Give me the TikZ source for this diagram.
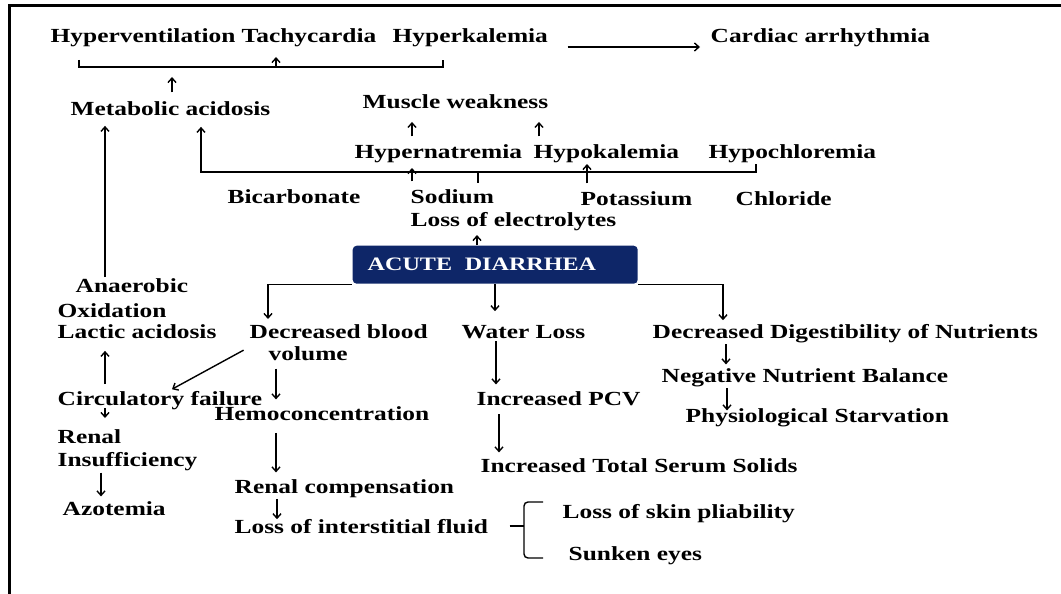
\documentclass[tikz,border=0pt]{standalone}
\usepackage{fontspec}
\setmainfont{Liberation Serif}[FakeStretch=1.27]
\usetikzlibrary{arrows.meta}
\definecolor{navyblue}{RGB}{14,38,104}
\tikzset{
 lbl/.style={font=\bfseries\fontsize{20}{22}\selectfont, inner sep=1pt, anchor=base west},
 lbltwo/.style={lbl, anchor=north west, align=left},
 causebox/.style={fill=navyblue, text=white, rounded corners=4pt, anchor=north west,
   minimum height=38pt, text width=255pt, inner xsep=15pt, inner ysep=0pt, align=left,
   font=\bfseries\fontsize{19}{21}\selectfont}
}
\begin{document}
\begin{tikzpicture}[x=1pt,y=-1pt,>={Straight Barb[length=4.5pt,width=8pt]},line width=1.4pt]
 \useasboundingbox (0,0) rectangle (1061,594);
 \draw[line width=3pt] (1061,6) -- (9,6) -- (9,594);
 \node[lbl] (hypvent) at (49,43) {Hyperventilation};
 \node[lbl] (tachy) at (240,43) {Tachycardia};
 \node[lbl] (hyperk) at (391,43) {Hyperkalemia};
 \node[lbl] (cardiac) at (709,43) {Cardiac arrhythmia};
 \draw[->, shorten <=18pt, shorten >=9pt] ([yshift=-4pt]hyperk.base east) -- ([yshift=-4pt]cardiac.base west);
 \coordinate (brL) at (79,67);
 \coordinate (brR) at (443,67);
 \draw (brL) ++(0,-7) -- (brL) -- (brR) -- ++(0,-7);
 \draw[->] (brL -| 276,0) -- ++(0,-10);
 \node[lbl] (metab) at (69,115) {Metabolic acidosis};
 \draw[->, shorten <=7pt, shorten >=10pt] (metab.north -| 172,0) -- (brL -| 172,0);
 \node[lbl] (muscle) at (361,108) {Muscle weakness};
 \node[lbl] (hypernat) at (353,158) {Hypernatremia};
 \node[lbl] (hypok) at (532,158) {Hypokalemia};
 \node[lbl] (hypochl) at (707,158) {Hypochloremia};
 \draw[->, shorten <=6pt, shorten >=12pt] (hypernat.north -| 412,0) -- (muscle.south -| 412,0);
 \draw[->, shorten <=6pt, shorten >=12pt] (hypok.north -| 539,0) -- (muscle.south -| 539,0);
 \node[lbl] (bicarb) at (226,203) {Bicarbonate};
 \node[lbl] (sodium) at (409,203) {Sodium};
 \node[lbl] (potass) at (579,205) {Potassium};
 \node[lbl] (chlor) at (734,205) {Chloride};
 \node[lbl] (losselec) at (409,226) {Loss of electrolytes};
 \coordinate (elL) at (201,172);
 \coordinate (elR) at (756,172);
 \draw[->, shorten >=10pt] (hypochl.south -| elR) -- (elR) -- (elL) -- (metab.south -| elL);
 \draw (elL -| 478,0) -- ++(0,11);
 \draw[->, shorten <=6pt, shorten >=4pt] (sodium.north -| 412,0) -- (hypernat.south -| 412,0);
 \draw[->, shorten <=6pt] (potass.north -| 587,0) -- (hypok.south -| 587,0);
 \node[causebox] (acute) at (352,245) {ACUTE\ \ DIARRHEA};
 \draw[->, shorten >=3pt] (acute.north -| 477,0) -- (losselec.south -| 477,0);
 \node[lbltwo] (anaer) at (56,277) {\hspace*{18pt}Anaerobic\\[3pt]Oxidation};
 \node[lbl] (lactic) at (56,338) {Lactic acidosis};
 \draw[->, shorten >=9pt] (anaer.north -| 105,0) -- (metab.south -| 105,0);
 \node[lbltwo] (decblood) at (248,323) {Decreased blood\\\hspace*{19pt}volume};
 \node[lbl] (water) at (460,338) {Water Loss};
 \node[lbl] (decdig) at (651,338) {Decreased Digestibility of Nutrients};
 \draw[->, shorten >=4pt] (acute.south west) -| (decblood.north -| 268,0);
 \draw[->, shorten >=12pt] (acute.south -| 495,0) -- (water.north -| 495,0);
 \draw[->, shorten >=2pt] (acute.south east) -| (decdig.north -| 723,0);
 \node[lbl] (negnut) at (660,382) {Negative Nutrient Balance};
 \node[lbl] (physio) at (684,422) {Physiological Starvation};
 \draw[->, shorten >=2pt] (decdig.south -| 726,0) -- (negnut.north -| 726,0);
 \draw[->, shorten >=-4pt] (negnut.south -| 727,0) -- (physio.north -| 727,0);
 \node[lbl] (pcv) at (475,405) {Increased PCV};
 \node[lbl] (solids) at (479,472) {Increased Total Serum Solids};
 \draw[->, shorten <=1pt, shorten >=5pt] (water.south -| 496,0) -- (pcv.north -| 496,0);
 \draw[->, shorten <=7pt, shorten >=4pt] (pcv.south -| 499,0) -- (solids.north -| 499,0);
 \node[lbl] (circ) at (56,405) {Circulatory failure};
 \node[lbl] (hemo) at (213,420) {Hemoconcentration};
 \draw[->, shorten <=5pt, shorten >=11pt] (circ.north -| 105,0) -- (lactic.south -| 105,0);
 \draw[->, shorten <=5pt] ([yshift=-5pt]decblood.west) -- (circ.north -| 172,0);
 \draw[->, shorten <=6pt, shorten >=5pt] (decblood.south -| 276,0) -- (hemo.north -| 276,0);
 \node[lbltwo] (renal) at (56,428) {Renal\\[1pt]Insufficiency};
 \node[lbl] (azot) at (61,515) {Azotemia};
 \draw[->, shorten <=-3pt, shorten >=10pt] (circ.south -| 105,0) -- (renal.north -| 105,0);
 \draw[->, shorten >=3pt] (renal.south -| 101,0) -- (azot.north -| 101,0);
 \node[lbl] (renalcomp) at (233,493) {Renal compensation};
 \node[lbl] (interst) at (233,533) {Loss of interstitial fluid};
 \draw[->, shorten <=11pt, shorten >=5pt] (hemo.south -| 276,0) -- (renalcomp.north -| 276,0);
 \draw[->, shorten >=-2pt] (renalcomp.south -| 277,0) -- (interst.north -| 277,0);
 \node[lbl] (skin) at (561,518) {Loss of skin pliability};
 \node[lbl] (sunken) at (567,560) {Sunken eyes};
 \coordinate (brc) at (524,526);
 \coordinate (brcT) at (543,502);
 \coordinate (brcB) at (543,558);
 \draw[shorten <=20pt] (interst.east) -- (interst.east -| brc);
 \draw[rounded corners=4pt] (brcT) -| (brc) |- (brcB);
\end{tikzpicture}
\end{document}
